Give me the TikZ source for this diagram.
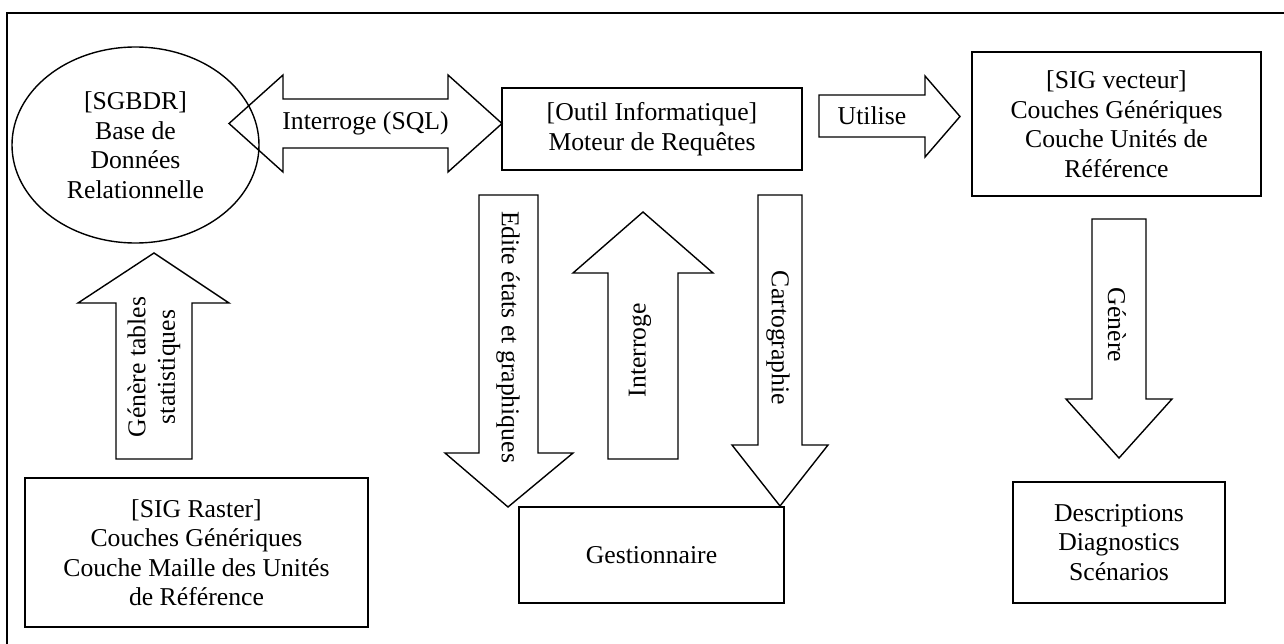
\documentclass[tikz,border=0pt]{standalone}
\usepackage{fontspec}
\setmainfont{Liberation Serif}
\usetikzlibrary{shapes.geometric}

\begin{document}
\begin{tikzpicture}[x=1pt, y=-1pt,
  every node/.style={font=\fontsize{25.7pt}{29.5pt}\selectfont, align=center},
  box/.style={draw, line width=1.4pt, inner sep=0pt},
  blockarrow/.style={draw, line width=1.4pt, line join=miter}]

  \useasboundingbox (0,0) rectangle (1284,644);

  % Frame (only top and left edges fall inside the page)
  \draw[line width=2.2pt] (7,650) -- (7,13) -- (1290,13);

  % Boxes
  \node[box, ellipse, minimum width=247pt, minimum height=196pt] (sgbdr) at (135.5,145)
    {[SGBDR]\\Base de\\Données\\Relationnelle};
  \node[box, minimum width=300pt, minimum height=82pt] (outil) at (652,129)
    {[Outil Informatique]\\Moteur de Requêtes};
  \node[box, minimum width=289pt, minimum height=144pt] (vecteur) at (1116.5,124)
    {[SIG vecteur]\\Couches Génériques\\Couche Unités de\\Référence};
  \node[box, minimum width=343pt, minimum height=149pt] (raster) at (196.5,552.5)
    {[SIG Raster]\\Couches Génériques\\Couche Maille des Unités\\de Référence};
  \node[box, minimum width=265pt, minimum height=96pt] (gest) at (651.5,555)
    {Gestionnaire};
  \node[box, minimum width=212pt, minimum height=121pt] (result) at (1119,542.5)
    {Descriptions\\Diagnostics\\Scénarios};

  % Double arrow between SGBDR and the query engine
  \draw[blockarrow] (229,123.5) -- (283,75) -- (283,99) -- (448,99) -- (448,75)
    -- (502,123.5) -- (448,172) -- (448,148) -- (283,148) -- (283,172) -- cycle;
  \node (lsql) at (365.5,123.5) {Interroge (SQL)};

  % Utilise (right)
  \draw[blockarrow] (819,95) -- (925,95) -- (925,76) -- (960,116.5)
    -- (925,157) -- (925,137) -- (819,137) -- cycle;
  \node (lutilise) at (872,116) {Utilise};

  % Genere (down, right column)
  \draw[blockarrow] (1092,219) -- (1146,219) -- (1146,399) -- (1172,399)
    -- (1119,458) -- (1066,399) -- (1092,399) -- cycle;
  \node[rotate=-90] (lgenere) at (1117,325) {Génère};

  % Cartographie (down)
  \draw[blockarrow] (758,195) -- (802,195) -- (802,445) -- (828,445)
    -- (780,506) -- (732,445) -- (758,445) -- cycle;
  \node[rotate=-90] (lcarto) at (778,338) {Cartographie};

  % Interroge (up)
  \draw[blockarrow] (608,459) -- (678,459) -- (678,273) -- (713,273)
    -- (643,212) -- (573,273) -- (608,273) -- cycle;
  \node[rotate=90] (linterroge) at (640,350) {Interroge};

  % Edite etats et graphiques (down)
  \draw[blockarrow] (479,195) -- (538,195) -- (538,453) -- (573,453)
    -- (508,507) -- (445,453) -- (479,453) -- cycle;
  \node[rotate=-90] (ledite) at (508,337) {Edite états et graphiques};

  % Genere tables statistiques (up, left column)
  \draw[blockarrow] (116,459) -- (192,459) -- (192,303) -- (229,303)
    -- (154,253) -- (78,303) -- (116,303) -- cycle;
  \node[rotate=90] (ltables) at (154,367) {Génère tables\\statistiques};

\end{tikzpicture}
\end{document}
